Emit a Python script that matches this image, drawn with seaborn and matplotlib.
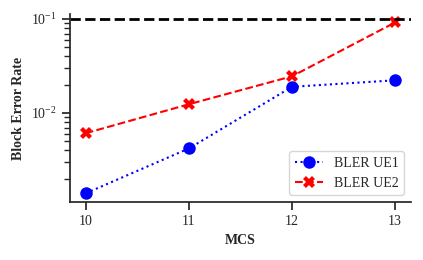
import numpy as np
import pandas as pd
import matplotlib
matplotlib.use("Agg")
import matplotlib.pyplot as plt
import seaborn as sns

# data
mcs = [10, 11, 12, 13]
bler_ue1 = [0.0014, 0.0042, 0.019, 0.0223]
bler_ue2 = [0.0061, 0.0124, 0.0246, 0.092]
target_bler = 0.1

sns.set_theme(style="ticks")
plt.rcParams['font.family'] = ['Liberation Serif', 'DejaVu Serif']
plt.rcParams['mathtext.fontset'] = 'stix'

fig, ax = plt.subplots(figsize=(4.23, 2.6), dpi=100)
fig.subplots_adjust(left=0.165, right=0.972, bottom=0.223, top=0.946)

sns.lineplot(x=mcs, y=bler_ue1, ax=ax, color='blue', linestyle=':', marker='o',
             markersize=9, markeredgewidth=0, linewidth=1.5, label='BLER UE1')
sns.lineplot(x=mcs, y=bler_ue2, ax=ax, color='red', linestyle='--', marker='X',
             markersize=9, markeredgewidth=0, linewidth=1.5, label='BLER UE2')
ax.axhline(target_bler, color='black', linestyle='--', linewidth=2)

ax.set_yscale('log')
ax.set_ylim(0.00113, 0.113)
ax.set_xlim(9.845, 13.155)
ax.set_xticks(mcs)
ax.set_xlabel('MCS', fontsize=10, fontweight='bold')
ax.set_ylabel('Block Error Rate', fontsize=10, fontweight='bold')
ax.tick_params(labelsize=10)
ax.legend(loc='lower right', fontsize=10, frameon=True)
sns.despine(ax=ax)

fig.savefig('out.png', dpi=100)
